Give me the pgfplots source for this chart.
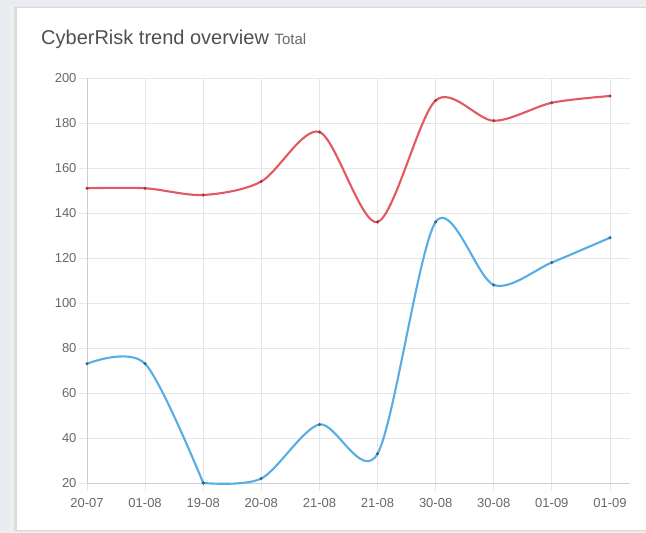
\documentclass[border=0pt]{standalone}
\usepackage{pgfplots}
\pgfplotsset{compat=1.18}
\usepackage{fontspec}
\setmainfont{Liberation Sans}
\definecolor{bgc}{RGB}{233,236,240}
\definecolor{gridc}{RGB}{230,230,230}
\definecolor{axisc}{RGB}{205,205,205}
\definecolor{labc}{RGB}{105,105,105}
\definecolor{titc}{RGB}{80,80,80}
\definecolor{redl}{RGB}{228,88,98}
\definecolor{redm}{RGB}{150,60,70}
\definecolor{bluel}{RGB}{88,174,228}
\definecolor{bluem}{RGB}{50,100,140}
\pgfplotstableread{
x red
0 151
1 151
2 148
3 154
4 176
5 136
6 190
7 181
8 189
9 192
}\redtab
\pgfplotstableread{
x blue
0 73
1 73
2 20
}\blueA
\pgfplotstableread{
x blue
2 20
3 22
4 46
5 33
6 136
7 108
8 118
9 129
}\blueB
\begin{document}
\begin{tikzpicture}[x=1pt,y=1pt]
\fill[bgc] (0,0) rectangle (646,533);
\fill[black!5] (11,0) rectangle (646,528);
\fill[black!10] (13,1) rectangle (646,527);
\fill[black!14] (15,2) rectangle (646,526);
\fill[white] (17,3) rectangle (646,525);
\node[anchor=base west, inner sep=0pt, text=titc] at (41,488)
  {\fontsize{20}{24}\selectfont CyberRisk trend overview \textcolor{labc}{\fontsize{15}{18}\selectfont Total}};
\begin{axis}[
  at={(87pt,50pt)}, anchor=south west,
  scale only axis, width=543pt, height=405pt,
  xmin=0, xmax=9.345, ymin=20, ymax=200,
  xtick={0,...,9},
  xticklabels={20-07,01-08,19-08,20-08,21-08,21-08,30-08,30-08,01-09,01-09},
  ytick={20,40,...,200},
  axis x line*=bottom, axis y line*=left,
  axis line style={axisc, line width=0.8pt, -},
  grid=major, grid style={gridc, line width=0.8pt},
  tick align=outside, major tick length=8pt,
  tick style={gridc, line width=0.8pt},
  ticklabel style={text=labc, font=\fontsize{13}{15}\selectfont},
  /pgf/number format/assume math mode=true,
  xticklabel style={yshift=-4pt},
  yticklabel style={xshift=1pt},
  clip=false,
]
\addplot[redl, line width=2.1pt, smooth, tension=0.5, mark=*, mark size=1.4pt,
  mark options={fill=redm, draw=redm, line width=0.3pt}] table[x=x,y=red]{\redtab};
\addplot[bluel, line width=2.1pt, smooth, tension=0.5, mark=*, mark size=1.4pt,
  mark options={fill=bluem, draw=bluem, line width=0.3pt}] table[x=x,y=blue]{\blueA};
\addplot[bluel, line width=2.1pt, smooth, tension=0.5, mark=*, mark size=1.4pt,
  mark options={fill=bluem, draw=bluem, line width=0.3pt}] table[x=x,y=blue]{\blueB};
\end{axis}
\end{tikzpicture}
\end{document}
